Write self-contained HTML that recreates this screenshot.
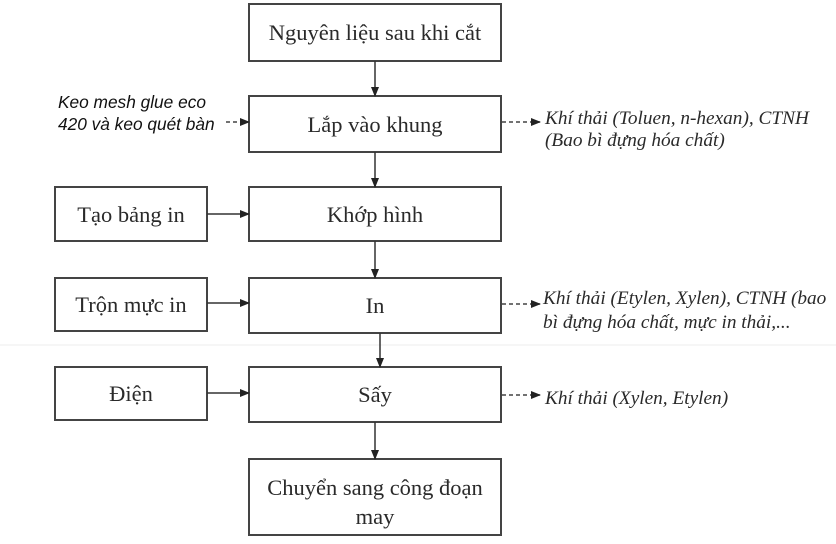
<!DOCTYPE html>
<html><head><meta charset="utf-8"><style>
html,body{margin:0;padding:0;background:#fff;}
svg{display:block;}
.b{fill:#fff;stroke:#444;stroke-width:2;}
.t{font-family:"Liberation Serif",serif;font-size:22.5px;fill:#2a2a2a;text-anchor:middle;}
.r{font-family:"Liberation Serif",serif;font-size:19.3px;font-style:italic;fill:#2a2a2a;}
.s{font-family:"Liberation Sans",sans-serif;font-size:17.3px;font-style:italic;fill:#111;}
.l{stroke:#333;stroke-width:1.5;fill:none;}
.d{stroke:#444;stroke-width:1.5;stroke-dasharray:4 3;fill:none;}
</style></head><body>
<svg width="836" height="544" viewBox="0 0 836 544">
<defs><marker id="a" markerWidth="10" markerHeight="10" refX="9" refY="5" orient="auto" markerUnits="userSpaceOnUse"><path d="M0,1 L10,5 L0,9 Z" fill="#222"/></marker></defs>
<line x1="0" y1="345" x2="836" y2="345" stroke="#eee" stroke-width="1"/>
<rect class="b" x="249" y="4" width="252" height="57"/>
<text class="t" x="375" y="40">Nguyên liệu sau khi cắt</text>
<rect class="b" x="249" y="96" width="252" height="56"/>
<text class="t" x="375" y="132">Lắp vào khung</text>
<rect class="b" x="249" y="187" width="252" height="54"/>
<text class="t" x="375" y="222">Khớp hình</text>
<rect class="b" x="249" y="278" width="252" height="55"/>
<text class="t" x="375" y="313">In</text>
<rect class="b" x="249" y="367" width="252" height="55"/>
<text class="t" x="375" y="402">Sấy</text>
<rect class="b" x="249" y="459" width="252" height="76"/>
<text class="t" x="375" y="495">Chuyển sang công đoạn</text>
<text class="t" x="375" y="524">may</text>
<rect class="b" x="55" y="187" width="152" height="54"/>
<text class="t" x="131" y="222">Tạo bảng in</text>
<rect class="b" x="55" y="278" width="152" height="53"/>
<text class="t" x="131" y="312">Trộn mực in</text>
<rect class="b" x="55" y="367" width="152" height="53"/>
<text class="t" x="131" y="401">Điện</text>
<line class="l" x1="375" y1="61" x2="375" y2="96" marker-end="url(#a)"/>
<line class="l" x1="375" y1="152" x2="375" y2="187" marker-end="url(#a)"/>
<line class="l" x1="375" y1="241" x2="375" y2="278" marker-end="url(#a)"/>
<line class="l" x1="380" y1="333" x2="380" y2="367" marker-end="url(#a)"/>
<line class="l" x1="375" y1="422" x2="375" y2="459" marker-end="url(#a)"/>
<line class="l" x1="207" y1="214" x2="249" y2="214" marker-end="url(#a)"/>
<line class="l" x1="207" y1="303" x2="249" y2="303" marker-end="url(#a)"/>
<line class="l" x1="207" y1="393" x2="249" y2="393" marker-end="url(#a)"/>
<text class="s" x="58" y="108">Keo mesh glue eco</text>
<text class="s" x="58" y="130">420 và keo quét bàn</text>
<line class="d" x1="226" y1="122" x2="249" y2="122" marker-end="url(#a)"/>
<line class="d" x1="502" y1="122" x2="540" y2="122" marker-end="url(#a)"/>
<line class="d" x1="502" y1="304" x2="540" y2="304" marker-end="url(#a)"/>
<line class="d" x1="502" y1="395" x2="540" y2="395" marker-end="url(#a)"/>
<text class="r" x="545" y="124">Khí thải (Toluen, n-hexan), CTNH</text>
<text class="r" x="545" y="146">(Bao bì đựng hóa chất)</text>
<text class="r" x="543" y="304">Khí thải (Etylen, Xylen), CTNH (bao</text>
<text class="r" x="543" y="328">bì đựng hóa chất, mực in thải,...</text>
<text class="r" x="545" y="404">Khí thải (Xylen, Etylen)</text>
</svg>
</body></html>
